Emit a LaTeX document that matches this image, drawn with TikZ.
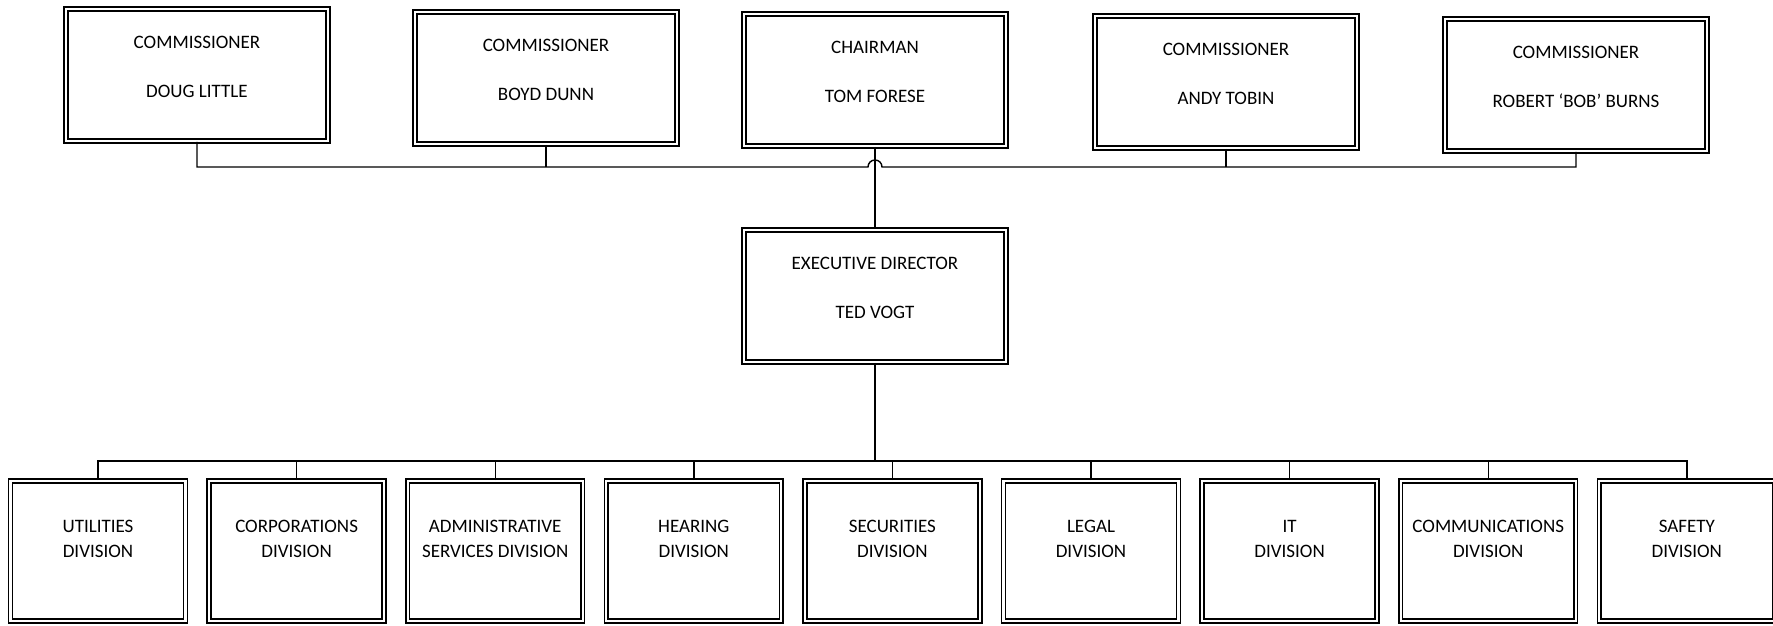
\documentclass[tikz,border=0pt]{standalone}
\usepackage{fontspec}
\setmainfont{Carlito}
\usetikzlibrary{positioning}

\begin{document}
\begin{tikzpicture}[
    x=0.5pt, y=-0.5pt,
    node distance=11pt,
    box/.style={draw, double, double distance=1.1pt, line width=0.8pt, rectangle, minimum width=131pt, minimum height=66pt, align=center, font=\fontsize{9.5}{11.5}\selectfont, text depth=8pt},
    div/.style={box, minimum width=87.5pt, minimum height=70pt, inner sep=1pt, text depth=12pt},
    link/.style={line width=0.7pt}
]
\useasboundingbox (0,0) rectangle (1773,626);

% commission
\node[box] (doug) at (197,75) {COMMISSIONER\\[13pt]DOUG LITTLE};
\node[box] (boyd) at (546,78) {COMMISSIONER\\[13pt]BOYD DUNN};
\node[box] (chair) at (875,80) {CHAIRMAN\\[13pt]TOM FORESE};
\node[box] (tobin) at (1226,82) {COMMISSIONER\\[13pt]ANDY TOBIN};
\node[box] (burns) at (1576,85) {COMMISSIONER\\[13pt]ROBERT `BOB' BURNS};

\node[box] (ed) at (875,296) {EXECUTIVE DIRECTOR\\[13pt]TED VOGT};

% divisions
\node[div] (util) at (98,551) {UTILITIES\\[1pt]DIVISION};
\node[div, right=of util] (corp) {CORPORATIONS\\[1pt]DIVISION};
\node[div, right=of corp] (admin) {ADMINISTRATIVE\\[1pt]SERVICES DIVISION};
\node[div, right=of admin] (hear) {HEARING\\[1pt]DIVISION};
\node[div, right=of hear] (sec) {SECURITIES\\[1pt]DIVISION};
\node[div, right=of sec] (legal) {LEGAL\\[1pt]DIVISION};
\node[div, right=of legal] (it) {IT\\[1pt]DIVISION};
\node[div, right=of it] (comm) {COMMUNICATIONS\\[1pt]DIVISION};
\node[div, right=of comm] (safety) {SAFETY\\[1pt]DIVISION};

\coordinate (topbus) at (0,167);
\coordinate (divbus) at (0,461);

\draw[link] (doug.south) -- (doug.south |- topbus) -- ([xshift=-3.5pt]chair.south |- topbus)
    arc[start angle=180, end angle=0, radius=3.5pt] -- (burns.south |- topbus) -- (burns.south);
\foreach \n in {boyd, tobin}
    \draw[link] (\n.south) -- (\n.south |- topbus);
\draw[link] (chair) -- (ed);

\draw[link] (ed) -- (ed |- divbus);
\draw[link] (util.north) -- (util.north |- divbus) -- (safety.north |- divbus) -- (safety.north);
\foreach \n in {corp, admin, hear, sec, legal, it, comm}
    \draw[link] (\n.north) -- (\n.north |- divbus);

\end{tikzpicture}
\end{document}
